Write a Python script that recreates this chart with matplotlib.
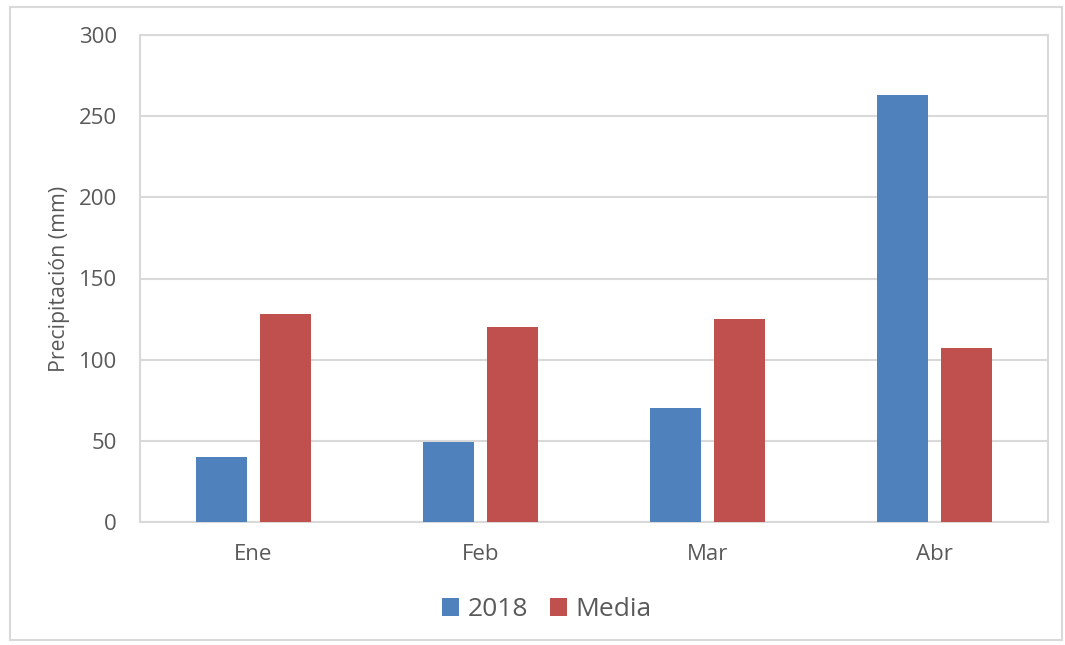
import matplotlib
matplotlib.use("Agg")
import matplotlib.pyplot as plt
from matplotlib.patches import Rectangle
import numpy as np

plt.rcParams['font.family'] = ['Open Sans', 'DejaVu Sans']

categories = ["Ene", "Feb", "Mar", "Abr"]
series_2018 = [40, 49, 70, 263]
series_media = [128, 120, 125, 107]
yticks = [0, 50, 100, 150, 200, 250, 300]

blue = "#4F81BD"
red = "#C0504D"
text_col = "#595959"
grid_col = "#D9D9D9"

fig = plt.figure(figsize=(10.65, 6.45), dpi=100)
W, H = 1065, 645
ax = fig.add_axes([140 / W, 1 - 522 / H, (1048 - 140) / W, (522 - 35) / H])

x = np.arange(len(categories))
bw = 0.225
off = 0.143
ax.bar(x - off, series_2018, bw, color=blue, label="2018", zorder=3)
ax.bar(x + off, series_media, bw, color=red, label="Media", zorder=3)

ax.set_xlim(-0.5, len(categories) - 0.5)
ax.set_ylim(0, 300)
ax.set_yticks(yticks)
ax.set_xticks(x)
ax.set_xticklabels(categories)
ax.yaxis.grid(True, color=grid_col, linewidth=1.5, zorder=0)
ax.tick_params(axis='both', length=0, colors=text_col, labelsize=16)
ax.tick_params(axis='x', pad=16)
ax.tick_params(axis='y', pad=16.5)
for s in ["top", "right", "left", "bottom"]:
    ax.spines[s].set_color(grid_col)
    ax.spines[s].set_linewidth(1.5)

ax.set_ylabel("Precipitación (mm)", color=text_col, fontsize=15.3, labelpad=6)

leg = ax.legend(loc="center", bbox_to_anchor=(0.448, -0.18), ncol=2, frameon=False,
                fontsize=19, handlelength=0.65, handleheight=0.65, handletextpad=0.3,
                columnspacing=0.85)
for t in leg.get_texts():
    t.set_color(text_col)

fig.patches.append(Rectangle((10 / W, 1 - 640 / H), (1062 - 10) / W, (640 - 7) / H,
                             transform=fig.transFigure, fill=False,
                             edgecolor=grid_col, linewidth=1.5))

fig.savefig("out.png", dpi=100)
